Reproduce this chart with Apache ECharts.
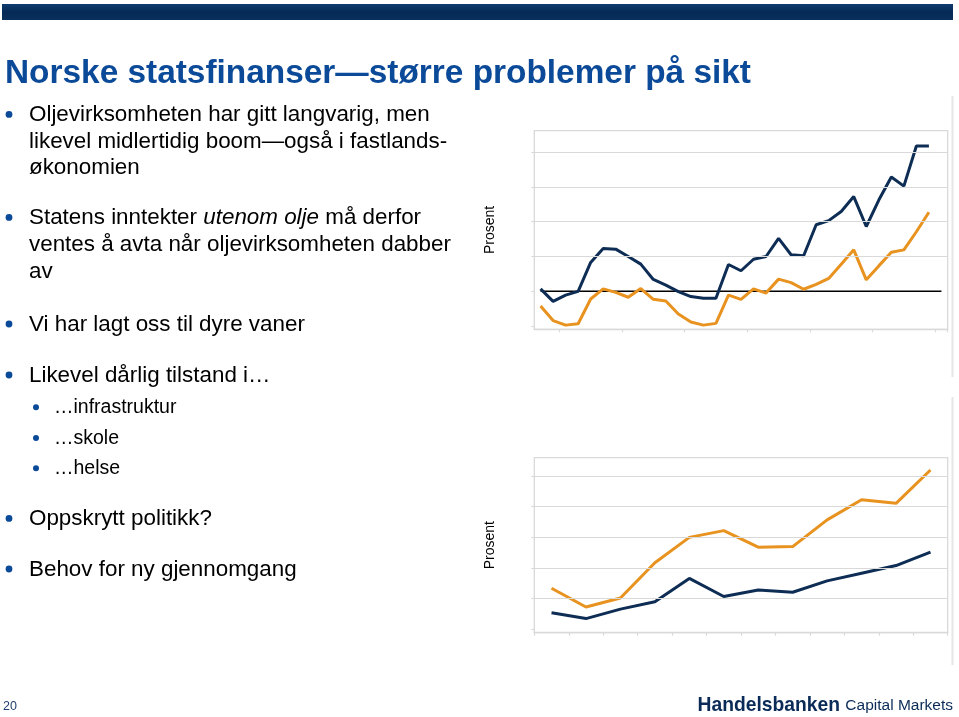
<!DOCTYPE html>
<html><head><meta charset="utf-8">
<script src="https://cdn.jsdelivr.net/npm/echarts@6/dist/echarts.min.js"></script>
<style>html,body{margin:0;padding:0;background:#fff}#c{width:959px;height:717px}</style>
</head><body><div id="c"></div>
<script>
// ---- data: upper chart (33 periods, lines run over 32) ----
const cats1 = ['1','2','3','4','5','6','7','8','9','10','11','12','13','14','15','16','17','18','19','20','21','22','23','24','25','26','27','28','29','30','31','32','33'];
const blue1 = [0.07,-0.29,-0.11,0.00,0.83,1.23,1.21,1.00,0.78,0.34,0.18,-0.01,-0.15,-0.20,-0.20,0.77,0.59,0.92,1.00,1.52,1.05,1.02,1.91,2.03,2.29,2.72,1.86,2.62,3.28,3.02,4.17,4.17];
const orange1 = [-0.42,-0.84,-0.97,-0.93,-0.22,0.07,-0.03,-0.17,0.08,-0.23,-0.28,-0.65,-0.88,-0.97,-0.92,-0.11,-0.23,0.07,-0.05,0.35,0.25,0.06,0.20,0.37,0.78,1.19,0.33,0.73,1.12,1.19,1.71,2.27];
const zero1 = [0,0,0,0,0,0,0,0,0,0,0,0,0,0,0,0,0,0,0,0,0,0,0,0,0,0,0,0,0,0,0,0,0];
const gridVals1 = [1,2,3,4];
const tickVals1 = [-1,0,1,2,3,4];
const yRange1 = [-1.09, 4.61];

// ---- data: lower chart (12 periods) ----
const cats2 = ['1','2','3','4','5','6','7','8','9','10','11','12'];
const orange2 = [1.34,0.73,1.02,2.17,3.00,3.22,2.68,2.70,3.57,4.23,4.11,5.20];
const blue2 = [0.54,0.35,0.66,0.90,1.66,1.07,1.28,1.21,1.58,1.83,2.08,2.52];
const gridVals2 = [1,2,3,4,5];
const tickVals2 = [0,1,2,3,4,5];
const yRange2 = [-0.11, 5.6];

// ---- texts ----
const titleText = 'Norske statsfinanser\u2014st\u00f8rre problemer p\u00e5 sikt';
const axisName = 'Prosent';
const mainLines = [
  ['Oljevirksomheten har gitt langvarig, men', 'likevel midlertidig boom\u2014ogs\u00e5 i fastlands-', '\u00f8konomien'],
  ['Statens inntekter {i|utenom olje} m\u00e5 derfor', 'ventes \u00e5 avta n\u00e5r oljevirksomheten dabber', 'av'],
  ['Vi har lagt oss til dyre vaner'],
  ['Likevel d\u00e5rlig tilstand i\u2026'],
  ['Oppskrytt politikk?'],
  ['Behov for ny gjennomgang']
];
const subLines = ['\u2026infrastruktur', '\u2026skole', '\u2026helse'];
const pageNo = '20';

const BLUE = '#0e2d55', ORANGE = '#e8921f', TBLUE = '#0b4a98', GRID = '#d9d9d9', FONT = 'Liberation Sans, Arial, sans-serif';
const chart = echarts.init(document.getElementById('c'), null, {renderer: 'canvas'});

function txt(x, baseline, text, size, opts) {
  opts = opts || {};
  return {
    type: 'text', x: x, y: baseline - 0.3465 * size, z: 10,
    style: Object.assign({
      text: text, fill: opts.fill || '#000',
      fontSize: size, fontFamily: FONT, fontWeight: opts.weight || 'normal',
      align: opts.align || 'left', verticalAlign: 'middle'
    }, opts.rich ? {rich: opts.rich} : {})
  };
}
const graphics = [];
// top bar
graphics.push({type: 'rect', shape: {x: 2, y: 4, width: 951, height: 16}, style: {fill: new echarts.graphic.LinearGradient(0,0,0,1,[{offset:0,color:'#0f3b70'},{offset:0.5,color:'#062a55'},{offset:1,color:'#0a2f5c'}])}});
graphics.push(txt(5, 85, titleText, 33.4, {fill: TBLUE, weight: 'bold'}));
// main bullets
const MAIN = 22.4;
const mainBaselines = [[122.7,149.3,175.5],[225.7,252.7,279.5],[332.3],[383.3],[526.7],[577.3]];
const italicRich = {i: {fontStyle: 'italic', fontSize: MAIN, fontFamily: FONT, fill: '#000'}};
mainLines.forEach((lines, bi) => {
  graphics.push({type: 'circle', shape: {cx: 9, cy: mainBaselines[bi][0] - 8.3, r: 3.4}, style: {fill: TBLUE}, z: 10});
  lines.forEach((ln, li) => {
    graphics.push(txt(29, mainBaselines[bi][li], ln, MAIN, ln.indexOf('{i|') >= 0 ? {rich: italicRich} : {}));
  });
});
const subBaselines = [414.3, 445, 475.3];
subLines.forEach((ln, i) => {
  graphics.push({type: 'circle', shape: {cx: 36, cy: subBaselines[i] - 7, r: 3}, style: {fill: TBLUE}, z: 10});
  graphics.push(txt(54, subBaselines[i], ln, 19.5));
});
// footer
graphics.push(txt(3, 711, pageNo, 12.5, {fill: '#1f3f6e'}));
graphics.push(txt(953, 712, '{b|Handelsbanken} {r|Capital Markets}', 19, {align: 'right', fill: BLUE, rich: {
  b: {fontWeight: 'bold', fontSize: 19.3, fontFamily: FONT, fill: '#0a2b57'},
  r: {fontSize: 15.5, fontFamily: FONT, fill: '#0a2b57'}
}}));
// faint edges of the chart panels
graphics.push({type: 'line', shape: {x1: 952.5, y1: 96, x2: 952.5, y2: 377}, style: {stroke: '#e6e6e6', lineWidth: 2}});
graphics.push({type: 'line', shape: {x1: 952.5, y1: 397, x2: 952.5, y2: 665}, style: {stroke: '#e6e6e6', lineWidth: 2}});

function gridMark(vals) {
  return {silent: true, symbol: 'none', label: {show: false}, lineStyle: {color: GRID, width: 1.2, type: 'solid'},
    data: vals.map(v => ({yAxis: v}))};
}
const yAxisBase = (range, ticks, gi) => ({
  type: 'value', gridIndex: gi, min: range[0], max: range[1],
  splitLine: {show: false}, axisLabel: {show: false},
  axisLine: {show: false, onZero: false},
  axisTick: {show: true, customValues: ticks, length: 3, lineStyle: {color: GRID, width: 1.2}},
  name: axisName, nameLocation: 'middle', nameRotate: 90, nameGap: 37,
  nameTextStyle: {fontSize: 14, fontFamily: FONT, color: '#000'}
});

chart.setOption({
  animation: false,
  backgroundColor: '#fff',
  graphic: graphics,
  grid: [
    {left: 534.3, right: 11.3, top: 130.7, bottom: 387.7, show: true, borderColor: GRID, borderWidth: 1.3, backgroundColor: 'transparent'},
    {left: 534.3, right: 11.3, top: 457.7, bottom: 84.3, show: true, borderColor: GRID, borderWidth: 1.3, backgroundColor: 'transparent'}
  ],
  xAxis: [
    {type: 'category', gridIndex: 0, data: cats1, boundaryGap: true, position: 'bottom',
      axisLine: {show: true, onZero: false, lineStyle: {color: GRID, width: 1.3}}, axisLabel: {show: false},
      axisTick: {show: true, interval: (i) => i % 5 === 2, length: 3, lineStyle: {color: GRID, width: 1.2}}},
    {type: 'category', gridIndex: 1, data: cats2, boundaryGap: true, position: 'bottom',
      axisLine: {show: true, onZero: false, lineStyle: {color: GRID, width: 1.3}}, axisLabel: {show: false},
      axisTick: {show: true, interval: 0, length: 3, lineStyle: {color: GRID, width: 1.2}}}
  ],
  yAxis: [yAxisBase(yRange1, tickVals1, 0), yAxisBase(yRange2, tickVals2, 1)],
  series: [
    {type: 'line', xAxisIndex: 0, yAxisIndex: 0, data: zero1, showSymbol: false, z: 1, silent: true,
      lineStyle: {width: 0, opacity: 0}, markLine: gridMark(gridVals1)},
    {type: 'line', xAxisIndex: 0, yAxisIndex: 0, data: zero1, showSymbol: false, z: 2, silent: true,
      lineStyle: {color: '#000', width: 1.6}},
    {type: 'line', xAxisIndex: 0, yAxisIndex: 0, data: orange1, showSymbol: false, z: 3,
      lineStyle: {color: ORANGE, width: 3}},
    {type: 'line', xAxisIndex: 0, yAxisIndex: 0, data: blue1, showSymbol: false, z: 4,
      lineStyle: {color: BLUE, width: 3}},
    {type: 'line', xAxisIndex: 1, yAxisIndex: 1, data: blue2, showSymbol: false, z: 1, silent: true,
      lineStyle: {width: 0, opacity: 0}, markLine: gridMark(gridVals2)},
    {type: 'line', xAxisIndex: 1, yAxisIndex: 1, data: orange2, showSymbol: false, z: 3,
      lineStyle: {color: ORANGE, width: 3}},
    {type: 'line', xAxisIndex: 1, yAxisIndex: 1, data: blue2, showSymbol: false, z: 4,
      lineStyle: {color: BLUE, width: 3}}
  ]
});
</script></body></html>
